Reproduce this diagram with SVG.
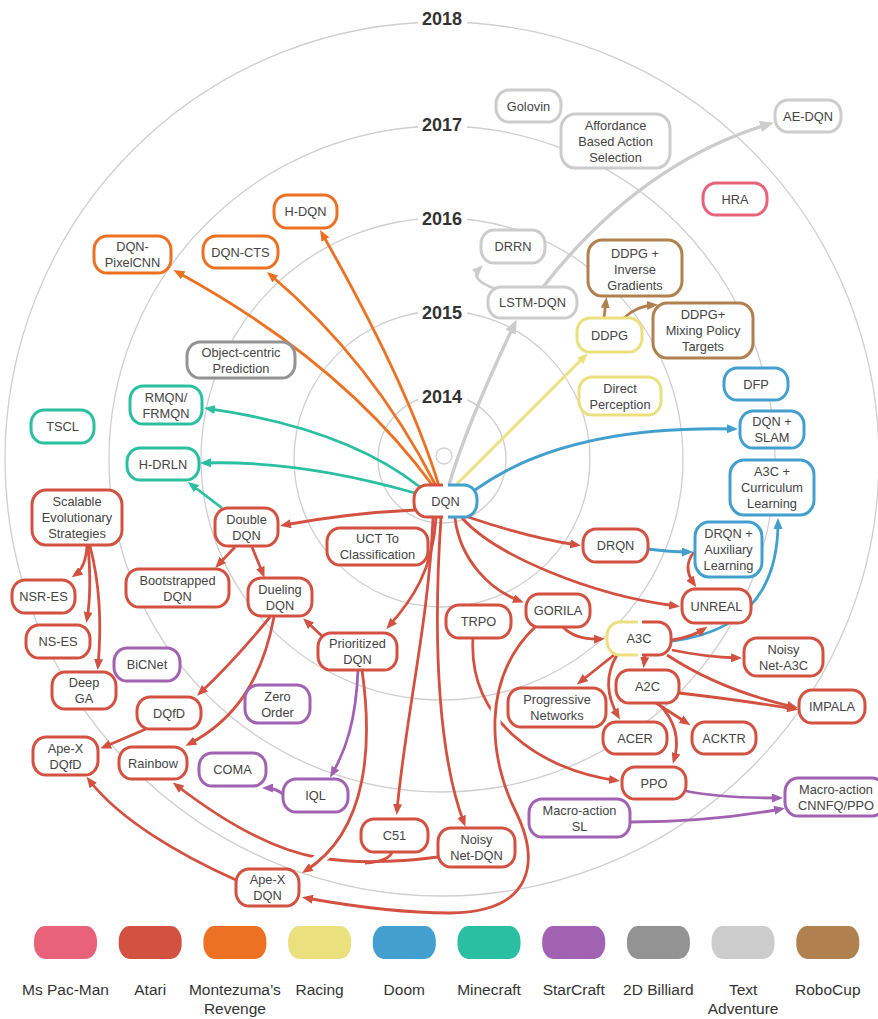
<svg xmlns="http://www.w3.org/2000/svg" width="878" height="1019" viewBox="0 0 878 1019">
<style>
text{font-family:"Liberation Sans",Arial,Helvetica,sans-serif;font-size:12.8px;fill:#444;text-anchor:middle}
.yr{font-size:18px;font-weight:bold;fill:#333}
.lg{font-size:15.5px;fill:#333}
.ring{fill:none;stroke:#cfcfcf;stroke-width:1.3}
.node rect{fill:#fff;stroke-width:3}
.half{fill:none;stroke-width:3}
.e{fill:none;stroke-width:2.8}
.halo{fill:none;stroke:#fff;stroke-width:11}
.red{stroke:#D35140}.ora{stroke:#EC7122}.yel{stroke:#EAE07D}.blu{stroke:#429FCE}.grn{stroke:#2ABFA0}.pur{stroke:#A062B1}.dgy{stroke:#939393}.lgy{stroke:#CCCCCC}.brn{stroke:#B0814F}.pnk{stroke:#E8627A}
</style>
<defs>
<marker id="ar" viewBox="0 0 11 9" refX="7" refY="4.5" markerWidth="11" markerHeight="9" markerUnits="userSpaceOnUse" orient="auto"><path d="M0,0 L11,4.5 L0,9 z" fill="#D35140"/></marker>
<marker id="ao" viewBox="0 0 11 9" refX="7" refY="4.5" markerWidth="11" markerHeight="9" markerUnits="userSpaceOnUse" orient="auto"><path d="M0,0 L11,4.5 L0,9 z" fill="#EC7122"/></marker>
<marker id="ay" viewBox="0 0 11 9" refX="7" refY="4.5" markerWidth="11" markerHeight="9" markerUnits="userSpaceOnUse" orient="auto"><path d="M0,0 L11,4.5 L0,9 z" fill="#EAE07D"/></marker>
<marker id="ab" viewBox="0 0 11 9" refX="7" refY="4.5" markerWidth="11" markerHeight="9" markerUnits="userSpaceOnUse" orient="auto"><path d="M0,0 L11,4.5 L0,9 z" fill="#429FCE"/></marker>
<marker id="ag" viewBox="0 0 11 9" refX="7" refY="4.5" markerWidth="11" markerHeight="9" markerUnits="userSpaceOnUse" orient="auto"><path d="M0,0 L11,4.5 L0,9 z" fill="#2ABFA0"/></marker>
<marker id="ap" viewBox="0 0 11 9" refX="7" refY="4.5" markerWidth="11" markerHeight="9" markerUnits="userSpaceOnUse" orient="auto"><path d="M0,0 L11,4.5 L0,9 z" fill="#A062B1"/></marker>
<marker id="al" viewBox="0 0 11 9" refX="7" refY="4.5" markerWidth="11" markerHeight="9" markerUnits="userSpaceOnUse" orient="auto"><path d="M0,0 L11,4.5 L0,9 z" fill="#CCCCCC"/></marker>
<marker id="aL" viewBox="0 0 11 9" refX="7" refY="4.5" markerWidth="14" markerHeight="11.5" markerUnits="userSpaceOnUse" orient="auto"><path d="M0,0 L11,4.5 L0,9 z" fill="#CCCCCC"/></marker>
<marker id="an" viewBox="0 0 11 9" refX="7" refY="4.5" markerWidth="11" markerHeight="9" markerUnits="userSpaceOnUse" orient="auto"><path d="M0,0 L11,4.5 L0,9 z" fill="#B0814F"/></marker>
</defs>
<rect width="878" height="1019" fill="#fff"/>
<g id="rings">
<circle class="ring" cx="442" cy="459" r="437"/>
<circle class="ring" cx="442" cy="459" r="333"/>
<circle class="ring" cx="442" cy="459" r="241"/>
<circle class="ring" cx="442" cy="459" r="148"/>
<circle class="ring" cx="442" cy="459" r="64"/>
<circle class="ring" cx="444" cy="456" r="8"/>
<rect x="418" y="6" width="49" height="24" fill="#fff"/>
<rect x="418" y="112" width="49" height="24" fill="#fff"/>
<rect x="418" y="206" width="49" height="24" fill="#fff"/>
<rect x="418" y="300" width="49" height="24" fill="#fff"/>
<rect x="418" y="384" width="49" height="24" fill="#fff"/>
<text class="yr" x="442" y="25">2018</text>
<text class="yr" x="442" y="131">2017</text>
<text class="yr" x="442" y="225">2016</text>
<text class="yr" x="442" y="319">2015</text>
<text class="yr" x="442" y="403">2014</text>
</g>
<g id="connectors">
<path class="e ora" d="M433,486 Q342,362 177,272" marker-end="url(#ao)"/>
<path class="e ora" d="M436,486 Q373,362 270,274.5" marker-end="url(#ao)"/>
<path class="e ora" d="M439,486 Q408,385 322,233.5" marker-end="url(#ao)"/>
<path class="e grn" d="M420,487 Q345,428 208,408.6" marker-end="url(#ag)"/>
<path class="e grn" d="M415,493 Q300,460 204,463" marker-end="url(#ag)"/>
<path class="e grn" d="M222,508 L191,484.5" marker-end="url(#ag)"/>
<path class="e yel" d="M457,484 L585,356" marker-end="url(#ay)"/>
<path class="e lgy" style="stroke-width:3.4" d="M449,485 C465,430 495,365 514.5,324" marker-end="url(#aL)"/>
<path class="e lgy" d="M496,289 C478,283 472,276 480,268" marker-end="url(#al)"/>
<path class="e lgy" style="stroke-width:3.4" d="M543,287 Q640,163 769,124" marker-end="url(#aL)"/>
<path class="e brn" d="M604,318 L606,301" marker-end="url(#an)"/>
<path class="e brn" d="M624,318 Q636,306 654,305" marker-end="url(#an)"/>
<path class="e blu" d="M475,490 Q565,425 734,429" marker-end="url(#ab)"/>
<path class="e blu" d="M648,549 Q670,552 689,552" marker-end="url(#ab)"/>
<path class="e blu" d="M672,641 C735,633 778,600 778,522" marker-end="url(#ab)"/>
<path class="e red" d="M415,510 Q350,513 284,525" marker-end="url(#ar)"/>
<path class="e red" d="M468,517 Q530,538 577,545" marker-end="url(#ar)"/>
<path class="e red" d="M462,518 C495,555 590,595 676,606" marker-end="url(#ar)"/>
<path class="e red" d="M455,518 C460,560 490,590 520,601" marker-end="url(#ar)"/>
<path class="e red" d="M436,518 C433,570 412,600 389,626" marker-end="url(#ar)"/>
<path class="e red" d="M433,518 C429,620 405,720 397,811" marker-end="url(#ar)"/>
<path class="e red" d="M441,518 C432,650 440,760 464,823" marker-end="url(#ar)"/>
<path class="e red" d="M473,638 C468,720 540,770 616,780.5" marker-end="url(#ar)"/>
<path class="halo" d="M497.5,698 L495,720 L495.5,741"/>
<path class="e red" d="M535,627 C480,680 490,760 515,810 C540,860 535,912 450,913 C400,913 345,905 306,898" marker-end="url(#ar)"/>
<path class="e red" d="M438,857 C400,862 360,864 320,858 C270,850 215,815 176,785" marker-end="url(#ar)"/>
<path class="e red" d="M392,852 C390,858 380,862 365,863"/>
<path class="halo" style="stroke-width:12" d="M331,848 L320.5,858.5 L310,867"/>
<path class="e red" d="M362,670 C372,740 370,830 305.4,870.8" marker-end="url(#ar)"/>
<path class="e red" d="M323,637 L306,621" marker-end="url(#ar)"/>
<path class="e pur" d="M358,670 C356,720 346,750 332,774" marker-end="url(#ap)"/>
<path class="e pur" d="M284,795 Q276,788 266,788" marker-end="url(#ap)"/>
<path class="e red" d="M235,547 L218,565" marker-end="url(#ar)"/>
<path class="e red" d="M252,547 L263,574" marker-end="url(#ar)"/>
<path class="e red" d="M270,617 Q235,660 200,693" marker-end="url(#ar)"/>
<path class="e red" d="M274,617 C262,680 235,720 189,744" marker-end="url(#ar)"/>
<path class="e red" d="M146,729 Q125,738 104,747" marker-end="url(#ar)"/>
<path class="e red" d="M236,880 C180,855 120,820 89,780" marker-end="url(#ar)"/>
<path class="e red" d="M87,546 C86,562 82,570 75,575" marker-end="url(#ar)"/>
<path class="e red" d="M88,546 Q92,590 87,619" marker-end="url(#ar)"/>
<path class="e red" d="M90,546 Q104,600 98,666" marker-end="url(#ar)"/>
<path class="e red" d="M563,627 Q575,640 601,639" marker-end="url(#ar)"/>
<path class="e red" d="M672,640 Q692,637 704,629" marker-end="url(#ar)"/>
<path class="e red" d="M694,552 Q682,567 694,584" marker-end="url(#ar)"/>
<path class="e red" d="M672,650 Q705,657 738,658" marker-end="url(#ar)"/>
<path class="e red" d="M667,655 Q720,690 794,707" marker-end="url(#ar)"/>
<path class="e red" d="M679,693 Q740,700 794,709" marker-end="url(#ar)"/>
<path class="e red" d="M645,655 L644,664" marker-end="url(#ar)"/>
<path class="e red" d="M614,655 L580,682" marker-end="url(#ar)"/>
<path class="e red" d="M617,655 C605,675 606,695 618,716" marker-end="url(#ar)"/>
<path class="e red" d="M656,703 L687,723" marker-end="url(#ar)"/>
<path class="e red" d="M658,703 C675,720 680,740 674,760" marker-end="url(#ar)"/>
<path class="e pur" d="M686,791 Q720,798 779,798" marker-end="url(#ap)"/>
<path class="e pur" d="M630,822 Q710,822 781,809" marker-end="url(#ap)"/>
</g>
<g id="n-hdqn" class="node"><rect class="ora" x="274" y="195" width="63" height="33" rx="13" ry="14"/><text x="305.5" y="216">H-DQN</text></g>
<g id="n-dqncts" class="node"><rect class="ora" x="203" y="236" width="75" height="32" rx="13" ry="14"/><text x="240.5" y="256.5">DQN-CTS</text></g>
<g id="n-pixelcnn" class="node"><rect class="ora" x="94" y="236" width="77" height="37" rx="13" ry="14"/><text x="132.5" y="251">DQN-</text><text x="132.5" y="267">PixelCNN</text></g>
<g id="n-golovin" class="node"><rect class="lgy" x="496" y="90" width="65" height="32" rx="13" ry="14"/><text x="528.5" y="110.5">Golovin</text></g>
<g id="n-affordance" class="node"><rect class="lgy" x="561" y="114" width="109" height="54" rx="14" ry="15"/><text x="615.5" y="129.5">Affordance</text><text x="615.5" y="145.5">Based Action</text><text x="615.5" y="161.5">Selection</text></g>
<g id="n-aedqn" class="node"><rect class="lgy" x="775" y="100" width="66" height="32" rx="13" ry="14"/><text x="808" y="120.5">AE-DQN</text></g>
<g id="n-drrn" class="node"><rect class="lgy" x="481" y="230" width="64" height="33" rx="13" ry="14"/><text x="513" y="251">DRRN</text></g>
<g id="n-lstmdqn" class="node"><rect class="lgy" x="488" y="287" width="89" height="31" rx="13" ry="14"/><text x="532.5" y="307">LSTM-DQN</text></g>
<g id="n-hra" class="node"><rect class="pnk" x="703" y="183" width="64" height="32" rx="13" ry="14"/><text x="735" y="203.5">HRA</text></g>
<g id="n-ddpginv" class="node"><rect class="brn" x="588" y="240" width="94" height="56" rx="14" ry="15"/><text x="635" y="257.5">DDPG +</text><text x="635" y="273.5">Inverse</text><text x="635" y="289.5">Gradients</text></g>
<g id="n-ddpgmix" class="node"><rect class="brn" x="653" y="303" width="100" height="55" rx="14" ry="15"/><text x="703" y="319">DDPG+</text><text x="703" y="335">Mixing Policy</text><text x="703" y="351">Targets</text></g>
<g id="n-ddpg" class="node"><rect class="yel" x="577" y="318" width="65" height="34" rx="13" ry="14"/><text x="609.5" y="339.5">DDPG</text></g>
<g id="n-directp" class="node"><rect class="yel" x="579" y="377" width="82" height="38" rx="13" ry="14"/><text x="620" y="392.5">Direct</text><text x="620" y="408.5">Perception</text></g>
<g id="n-dfp" class="node"><rect class="blu" x="724" y="368" width="64" height="32" rx="13" ry="14"/><text x="756" y="388.5">DFP</text></g>
<g id="n-dqnslam" class="node"><rect class="blu" x="740" y="411" width="64" height="37" rx="13" ry="14"/><text x="772" y="426">DQN +</text><text x="772" y="442">SLAM</text></g>
<g id="n-a3ccurr" class="node"><rect class="blu" x="730" y="460" width="84" height="55" rx="14" ry="15"/><text x="772" y="476">A3C +</text><text x="772" y="492">Curriculum</text><text x="772" y="508">Learning</text></g>
<g id="n-drqnaux" class="node"><rect class="blu" x="695" y="522" width="67" height="55" rx="14" ry="15"/><text x="728.5" y="538">DRQN +</text><text x="728.5" y="554">Auxiliary</text><text x="728.5" y="570">Learning</text></g>
<g id="n-rmqn" class="node"><rect class="grn" x="130" y="386" width="72" height="38" rx="13" ry="14"/><text x="166" y="401.5">RMQN/</text><text x="166" y="417.5">FRMQN</text></g>
<g id="n-hdrln" class="node"><rect class="grn" x="127" y="448" width="72" height="32" rx="13" ry="14"/><text x="163" y="468.5">H-DRLN</text></g>
<g id="n-tscl" class="node"><rect class="grn" x="31" y="410" width="63" height="33" rx="13" ry="14"/><text x="62.5" y="431">TSCL</text></g>
<g id="n-objc" class="node"><rect class="dgy" x="187" y="342" width="108" height="36" rx="13" ry="14"/><text x="241" y="356.5">Object-centric</text><text x="241" y="372.5">Prediction</text></g>
<g id="n-dqn" class="node"><rect x="414" y="485" width="63" height="32" rx="13" ry="14" style="stroke:none"/><path class="half red" d="M443,485 H427 A13,14 0 0 0 414,499 V503 A13,14 0 0 0 427,517 H443"/><path class="half blu" d="M448,485 H464 A13,14 0 0 1 477,499 V503 A13,14 0 0 1 464,517 H448"/><text x="445.5" y="505.5">DQN</text></g>
<g id="n-doubledqn" class="node"><rect class="red" x="215" y="508" width="63" height="38" rx="13" ry="14"/><text x="246.5" y="523.5">Double</text><text x="246.5" y="539.5">DQN</text></g>
<g id="n-uct" class="node"><rect class="red" x="327" y="528" width="101" height="37" rx="13" ry="14"/><text x="377.5" y="543">UCT To</text><text x="377.5" y="559">Classification</text></g>
<g id="n-scalable" class="node"><rect class="red" x="32" y="490" width="90" height="55" rx="14" ry="15"/><text x="77" y="506">Scalable</text><text x="77" y="522">Evolutionary</text><text x="77" y="538">Strategies</text></g>
<g id="n-bootstrapped" class="node"><rect class="red" x="126" y="569" width="103" height="38" rx="13" ry="14"/><text x="177.5" y="584.5">Bootstrapped</text><text x="177.5" y="600.5">DQN</text></g>
<g id="n-dueling" class="node"><rect class="red" x="248" y="578" width="64" height="38" rx="13" ry="14"/><text x="280" y="593.5">Dueling</text><text x="280" y="609.5">DQN</text></g>
<g id="n-nsres" class="node"><rect class="red" x="12" y="580" width="63" height="33" rx="13" ry="14"/><text x="43.5" y="601">NSR-ES</text></g>
<g id="n-nses" class="node"><rect class="red" x="26" y="625" width="64" height="33" rx="13" ry="14"/><text x="58" y="646">NS-ES</text></g>
<g id="n-prioritized" class="node"><rect class="red" x="318" y="633" width="79" height="37" rx="13" ry="14"/><text x="357.5" y="648">Prioritized</text><text x="357.5" y="664">DQN</text></g>
<g id="n-deepga" class="node"><rect class="red" x="52" y="672" width="64" height="37" rx="13" ry="14"/><text x="84" y="687">Deep</text><text x="84" y="703">GA</text></g>
<g id="n-dqfd" class="node"><rect class="red" x="137" y="697" width="64" height="32" rx="13" ry="14"/><text x="169" y="717.5">DQfD</text></g>
<g id="n-apexdqfd" class="node"><rect class="red" x="33" y="737" width="65" height="38" rx="13" ry="14"/><text x="65.5" y="752.5">Ape-X</text><text x="65.5" y="768.5">DQfD</text></g>
<g id="n-rainbow" class="node"><rect class="red" x="119" y="747" width="68" height="32" rx="13" ry="14"/><text x="153" y="767.5">Rainbow</text></g>
<g id="n-c51" class="node"><rect class="red" x="361" y="819" width="67" height="33" rx="13" ry="14"/><text x="394.5" y="840">C51</text></g>
<g id="n-apexdqn" class="node"><rect class="red" x="236" y="869" width="63" height="37" rx="13" ry="14"/><text x="267.5" y="884">Ape-X</text><text x="267.5" y="900">DQN</text></g>
<g id="n-noisydqn" class="node"><rect class="red" x="438" y="828" width="77" height="39" rx="13" ry="14"/><text x="476.5" y="844">Noisy</text><text x="476.5" y="860">Net-DQN</text></g>
<g id="n-trpo" class="node"><rect class="red" x="446" y="605" width="65" height="33" rx="13" ry="14"/><text x="478.5" y="626">TRPO</text></g>
<g id="n-gorila" class="node"><rect class="red" x="526" y="594" width="64" height="33" rx="13" ry="14"/><text x="558" y="615">GORILA</text></g>
<g id="n-drqn" class="node"><rect class="red" x="583" y="529" width="65" height="33" rx="13" ry="14"/><text x="615.5" y="550">DRQN</text></g>
<g id="n-unreal" class="node"><rect class="red" x="682" y="589" width="69" height="34" rx="13" ry="14"/><text x="716.5" y="610.5">UNREAL</text></g>
<g id="n-a3c" class="node"><rect x="607" y="622" width="64" height="33" rx="13" ry="14" style="stroke:none"/><path class="half yel" d="M638,622 H620 A13,14 0 0 0 607,636 V641 A13,14 0 0 0 620,655 H638"/><path class="half red" d="M642,622 H658 A13,14 0 0 1 671,636 V641 A13,14 0 0 1 658,655 H642"/><text x="639" y="643">A3C</text></g>
<g id="n-noisya3c" class="node"><rect class="red" x="744" y="638" width="79" height="38" rx="13" ry="14"/><text x="783.5" y="653.5">Noisy</text><text x="783.5" y="669.5">Net-A3C</text></g>
<g id="n-a2c" class="node"><rect class="red" x="616" y="670" width="63" height="33" rx="13" ry="14"/><text x="647.5" y="691">A2C</text></g>
<g id="n-prognet" class="node"><rect class="red" x="508" y="688" width="98" height="39" rx="13" ry="14"/><text x="557" y="704">Progressive</text><text x="557" y="720">Networks</text></g>
<g id="n-impala" class="node"><rect class="red" x="799" y="690" width="66" height="33" rx="13" ry="14"/><text x="832" y="711">IMPALA</text></g>
<g id="n-acer" class="node"><rect class="red" x="603" y="722" width="64" height="32" rx="13" ry="14"/><text x="635" y="742.5">ACER</text></g>
<g id="n-acktr" class="node"><rect class="red" x="692" y="722" width="64" height="32" rx="13" ry="14"/><text x="724" y="742.5">ACKTR</text></g>
<g id="n-ppo" class="node"><rect class="red" x="622" y="767" width="64" height="32" rx="13" ry="14"/><text x="654" y="787.5">PPO</text></g>
<g id="n-bicnet" class="node"><rect class="pur" x="114" y="648" width="66" height="33" rx="13" ry="14"/><text x="147" y="669">BiCNet</text></g>
<g id="n-zero" class="node"><rect class="pur" x="245" y="685" width="65" height="38" rx="13" ry="14"/><text x="277.5" y="700.5">Zero</text><text x="277.5" y="716.5">Order</text></g>
<g id="n-coma" class="node"><rect class="pur" x="199" y="753" width="67" height="33" rx="13" ry="14"/><text x="232.5" y="774">COMA</text></g>
<g id="n-iql" class="node"><rect class="pur" x="283" y="779" width="65" height="33" rx="13" ry="14"/><text x="315.5" y="800">IQL</text></g>
<g id="n-macrosl" class="node"><rect class="pur" x="529" y="799" width="101" height="38" rx="13" ry="14"/><text x="579.5" y="814.5">Macro-action</text><text x="579.5" y="830.5">SL</text></g>
<g id="n-macrocnn" class="node"><rect class="pur" x="785" y="778" width="100" height="38" rx="13" ry="14"/><text x="836" y="793.5">Macro-action</text><text x="836" y="809.5">CNNFQ/PPO</text></g>
<g id="legend">
<rect x="34" y="926" width="63" height="33" rx="11" ry="15" fill="#E8627A"/>
<rect x="118.7" y="926" width="63" height="33" rx="11" ry="15" fill="#D35140"/>
<rect x="203.4" y="926" width="63" height="33" rx="11" ry="15" fill="#EC7122"/>
<rect x="288.1" y="926" width="63" height="33" rx="11" ry="15" fill="#EAE07D"/>
<rect x="372.8" y="926" width="63" height="33" rx="11" ry="15" fill="#429FCE"/>
<rect x="457.5" y="926" width="63" height="33" rx="11" ry="15" fill="#2ABFA0"/>
<rect x="542.2" y="926" width="63" height="33" rx="11" ry="15" fill="#A062B1"/>
<rect x="626.9" y="926" width="63" height="33" rx="11" ry="15" fill="#939393"/>
<rect x="711.6" y="926" width="63" height="33" rx="11" ry="15" fill="#CCCCCC"/>
<rect x="796.3" y="926" width="63" height="33" rx="11" ry="15" fill="#B0814F"/>
<text class="lg" x="65.5" y="995">Ms Pac-Man</text>
<text class="lg" x="150.2" y="995">Atari</text>
<text class="lg" x="234.9" y="995">Montezuma’s</text>
<text class="lg" x="234.9" y="1014">Revenge</text>
<text class="lg" x="319.6" y="995">Racing</text>
<text class="lg" x="404.3" y="995">Doom</text>
<text class="lg" x="489" y="995">Minecraft</text>
<text class="lg" x="573.7" y="995">StarCraft</text>
<text class="lg" x="658.4" y="995">2D Billiard</text>
<text class="lg" x="743.1" y="995">Text</text>
<text class="lg" x="743.1" y="1014">Adventure</text>
<text class="lg" x="827.8" y="995">RoboCup</text>
</g>
</svg>
